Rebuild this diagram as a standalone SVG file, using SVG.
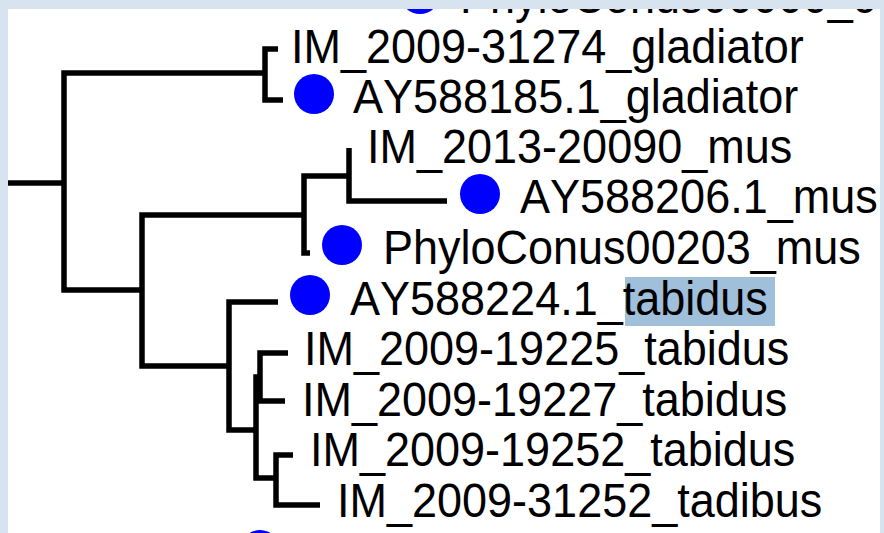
<svg xmlns="http://www.w3.org/2000/svg" width="884" height="533" viewBox="0 0 884 533">
  <style>
    .lbl { font-family: "Liberation Sans", Arial, sans-serif; font-size: 45px; fill: #000; font-kerning: none; }
    .br { fill: none; stroke: #000; stroke-width: 5.5; stroke-linejoin: miter; stroke-linecap: butt; }
    .dot { fill: #0000ff; }
    .hl { fill: #a0bfda; }
  </style>
  <rect x="0" y="0" width="884" height="533" fill="#ffffff"/>

  <!-- tree branches -->
  <g id="connectors">
    <path class="br" d="M8 183 H64"/>
    <path class="br" d="M265 73 H64 V290 H142"/>
    <path class="br" d="M278 49 H265 V100 H283"/>
    <path class="br" d="M302 215 H142 V366 H229"/>
    <path class="br" d="M349 176 H304 V253 H310"/>
    <path class="br" d="M349 148 V201 H447"/>
    <path class="br" d="M278 302 H229 V430 H256"/>
    <path class="br" d="M260 377 H256 V478 H276"/>
    <path class="br" d="M288 353 H260 V401 H285"/>
    <path class="br" d="M293 455 H276 V505 H320"/>
  </g>

  <!-- leaves -->
  <g id="leaf-top">
    <circle class="dot" cx="420" cy="-6" r="20"/>
    <text class="lbl" transform="translate(460,13) scale(1,1.08)">PhyloConus00000_c</text>
  </g>
  <g id="leaf-IM_2009-31274">
    <text class="lbl" transform="translate(291,63) scale(1,1.08)">IM_2009-31274_gladiator</text>
  </g>
  <g id="leaf-AY588185">
    <circle class="dot" cx="314" cy="94" r="20"/>
    <text class="lbl" transform="translate(353,113) scale(1,1.08)">AY588185.1_gladiator</text>
  </g>
  <g id="leaf-IM_2013-20090">
    <text class="lbl" transform="translate(367,163) scale(1,1.08)">IM_2013-20090_mus</text>
  </g>
  <g id="leaf-AY588206">
    <circle class="dot" cx="480" cy="194" r="20"/>
    <text class="lbl" transform="translate(520,213) scale(1,1.08)">AY588206.1_mus</text>
  </g>
  <g id="leaf-PhyloConus00203">
    <circle class="dot" cx="342" cy="245" r="20"/>
    <text class="lbl" transform="translate(383,264) scale(1,1.08)">PhyloConus00203_mus</text>
  </g>
  <g id="leaf-AY588224">
    <rect class="hl" x="625" y="277" width="150" height="49"/>
    <circle class="dot" cx="310" cy="295" r="20"/>
    <text class="lbl" transform="translate(350,315) scale(1,1.08)">AY588224.1_tabidus</text>
  </g>
  <g id="leaf-IM_2009-19225">
    <text class="lbl" transform="translate(304,365) scale(1,1.08)">IM_2009-19225_tabidus</text>
  </g>
  <g id="leaf-IM_2009-19227">
    <text class="lbl" transform="translate(302,416) scale(1,1.08)">IM_2009-19227_tabidus</text>
  </g>
  <g id="leaf-IM_2009-19252">
    <text class="lbl" transform="translate(310,466) scale(1,1.08)">IM_2009-19252_tabidus</text>
  </g>
  <g id="leaf-IM_2009-31252">
    <text class="lbl" transform="translate(337,517) scale(1,1.08)">IM_2009-31252_tadibus</text>
  </g>
  <g id="leaf-bottom">
    <circle class="dot" cx="260" cy="550" r="20"/>
  </g>

  <!-- window frame -->
  <path fill="#d8e3f0" fill-rule="evenodd" d="M0 0 H884 V533 H0 Z M8 9 V533 H880 V9 Z"/>
</svg>
